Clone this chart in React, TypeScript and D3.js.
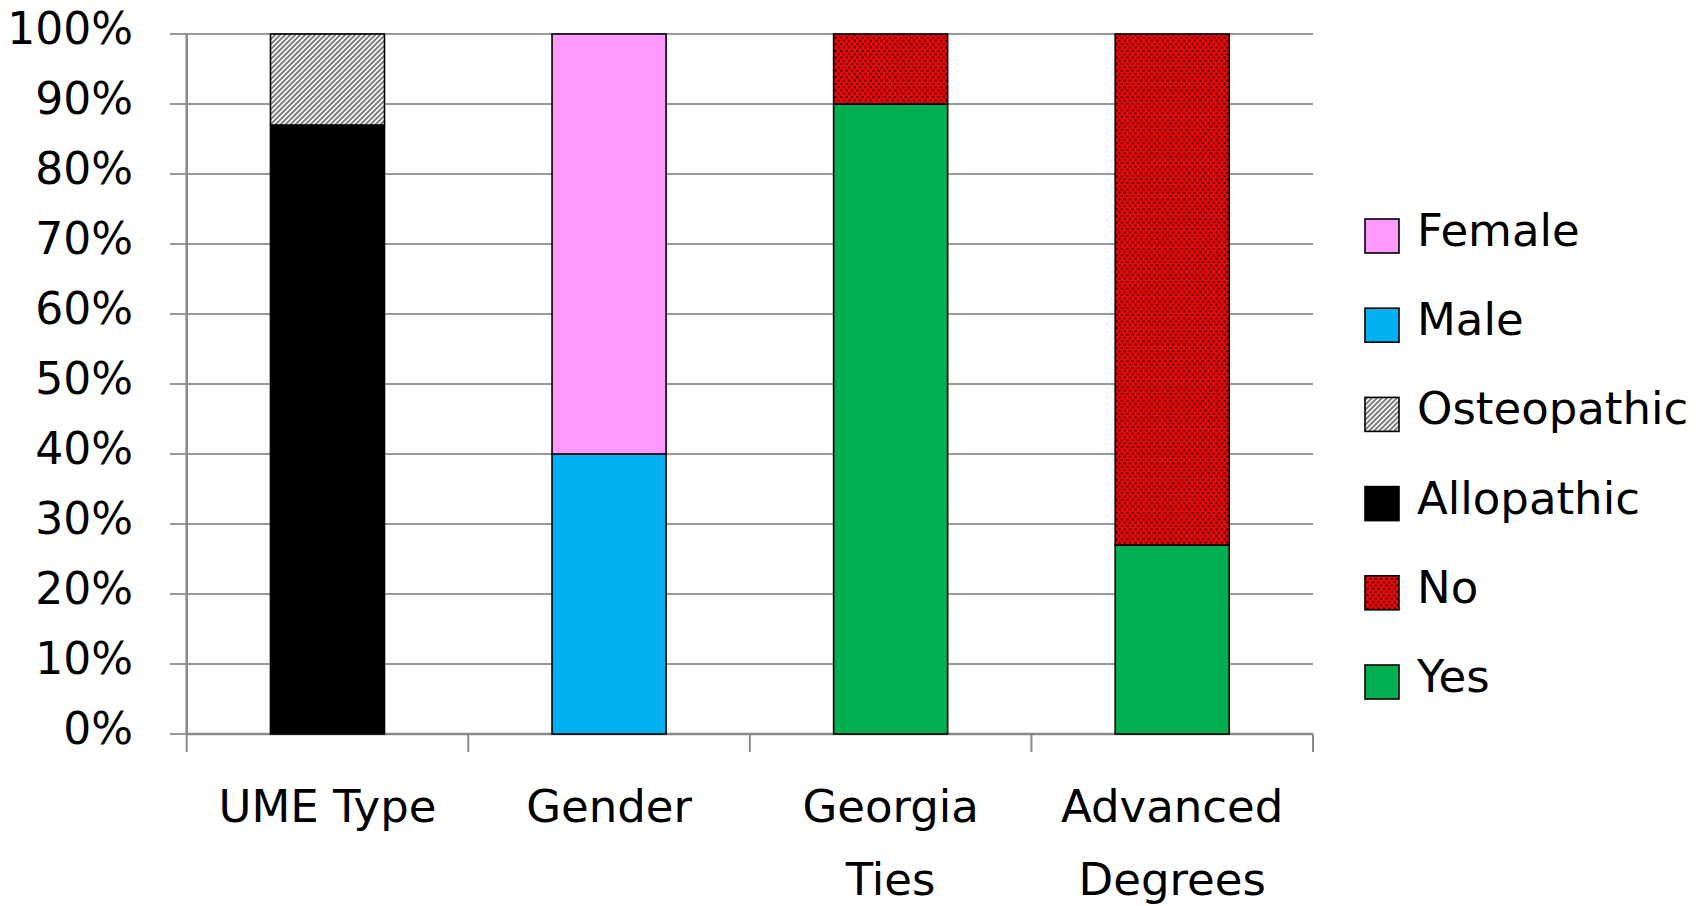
import React from "react";
import * as d3 from "d3";

const categories = ["UME Type", "Gender", "Georgia Ties", "Advanced Degrees"];
const categoryLines = [["UME Type"], ["Gender"], ["Georgia", "Ties"], ["Advanced", "Degrees"]];
const allopathic = [87, 0, 0, 0];
const osteopathic = [13, 0, 0, 0];
const male = [0, 40, 0, 0];
const female = [0, 60, 0, 0];
const yes = [0, 0, 90, 27];
const no = [0, 0, 10, 73];
const yTicks = [0, 10, 20, 30, 40, 50, 60, 70, 80, 90, 100];
const legendOrder = ["Female", "Male", "Osteopathic", "Allopathic", "No", "Yes"];

const seriesKeys = ["Allopathic", "Osteopathic", "Male", "Female", "Yes", "No"];
const seriesValues: Record<string, number[]> = {
  Allopathic: allopathic,
  Osteopathic: osteopathic,
  Male: male,
  Female: female,
  Yes: yes,
  No: no,
};
const fills: Record<string, string> = {
  Allopathic: "#000000",
  Osteopathic: "url(#hatch)",
  Male: "#00B0F0",
  Female: "#FF99FF",
  Yes: "#00B050",
  No: "url(#dots)",
};

const FONT = "'DejaVu Sans', sans-serif";

export default function App() {
  const left = 186.7;
  const right = 1313;
  const top = 34;
  const bottom = 734;
  const x = d3.scaleBand<string>().domain(categories).range([left, right]).padding(0);
  const y = d3.scaleLinear().domain([0, 100]).range([bottom, top]);
  const barW = x.bandwidth() * 0.405;

  const table = categories.map((c, i) => {
    const row: Record<string, any> = { cat: c };
    seriesKeys.forEach((k) => (row[k] = seriesValues[k][i]));
    return row;
  });
  const stacked = d3.stack<Record<string, any>>().keys(seriesKeys)(table);

  const gridColor = "#999999";
  const axisColor = "#8a8a8a";

  const legendX = 1365;
  const legendTop = 219;
  const legendStep = 89.2;
  const sq = 34;

  return (
    <svg
      width={1707}
      height={906}
      style={{ position: "absolute", left: 0, top: 0, background: "#fff" }}
    >
      <defs>
        <pattern id="hatch" patternUnits="userSpaceOnUse" width={5} height={5}>
          <rect width={5} height={5} fill="#ffffff" />
          <path d="M-1.25,1.25 L1.25,-1.25 M0,5 L5,0 M3.75,6.25 L6.25,3.75" stroke="#808080" strokeWidth={2} />
        </pattern>
        <pattern id="dots" patternUnits="userSpaceOnUse" width={5.4} height={6.6}>
          <rect width={5.4} height={6.6} fill="#FF0000" />
          <rect x={0.4} y={0.4} width={2} height={2} fill="#000" />
          <rect x={3.1} y={3.7} width={2} height={2} fill="#000" />
        </pattern>
      </defs>

      {/* gridlines */}
      {yTicks.map((t) => (
        <line key={"g" + t} x1={170} x2={right} y1={y(t)} y2={y(t)} stroke={gridColor} strokeWidth={2} />
      ))}

      {/* y labels */}
      {yTicks.map((t) => (
        <text
          key={"yl" + t}
          x={133}
          y={y(t) + 10}
          textAnchor="end"
          fontFamily={FONT}
          fontSize={44}
          fill="#000"
        >
          {t}%
        </text>
      ))}

      {/* axes */}
      <line x1={left} x2={left} y1={top} y2={bottom} stroke={axisColor} strokeWidth={2.5} />
      <line x1={left} x2={right} y1={bottom} y2={bottom} stroke={axisColor} strokeWidth={2.5} />
      {categories.map((c) => (
        <line key={"t" + c} x1={x(c)!} x2={x(c)!} y1={bottom} y2={752} stroke={axisColor} strokeWidth={2} />
      ))}
      <line x1={right} x2={right} y1={bottom} y2={752} stroke={axisColor} strokeWidth={2} />

      {/* bars */}
      {stacked.map((s) =>
        s.map((d, i) => {
          const v = d[1] - d[0];
          if (v <= 0) return null;
          const c = categories[i];
          const bx = x(c)! + (x.bandwidth() - barW) / 2;
          return (
            <rect
              key={s.key + i}
              x={bx}
              y={y(d[1])}
              width={barW}
              height={y(d[0]) - y(d[1])}
              fill={fills[s.key]}
              stroke="#000"
              strokeWidth={1.6}
            />
          );
        })
      )}

      {/* x labels */}
      {categories.map((c, i) =>
        categoryLines[i].map((ln, j) => (
          <text
            key={"xl" + c + j}
            x={x(c)! + x.bandwidth() / 2}
            y={822 + j * 73}
            textAnchor="middle"
            fontFamily={FONT}
            fontSize={45}
            fill="#000"
          >
            {ln}
          </text>
        ))
      )}

      {/* legend */}
      {legendOrder.map((k, i) => {
        const yy = legendTop + i * legendStep;
        return (
          <g key={"lg" + k}>
            <rect x={legendX} y={yy} width={sq} height={sq} fill={fills[k]} stroke="#000" strokeWidth={1.6} />
            <text x={1417} y={yy + sq / 2 + 10} fontFamily={FONT} fontSize={45} fill="#000">
              {k}
            </text>
          </g>
        );
      })}
    </svg>
  );
}
